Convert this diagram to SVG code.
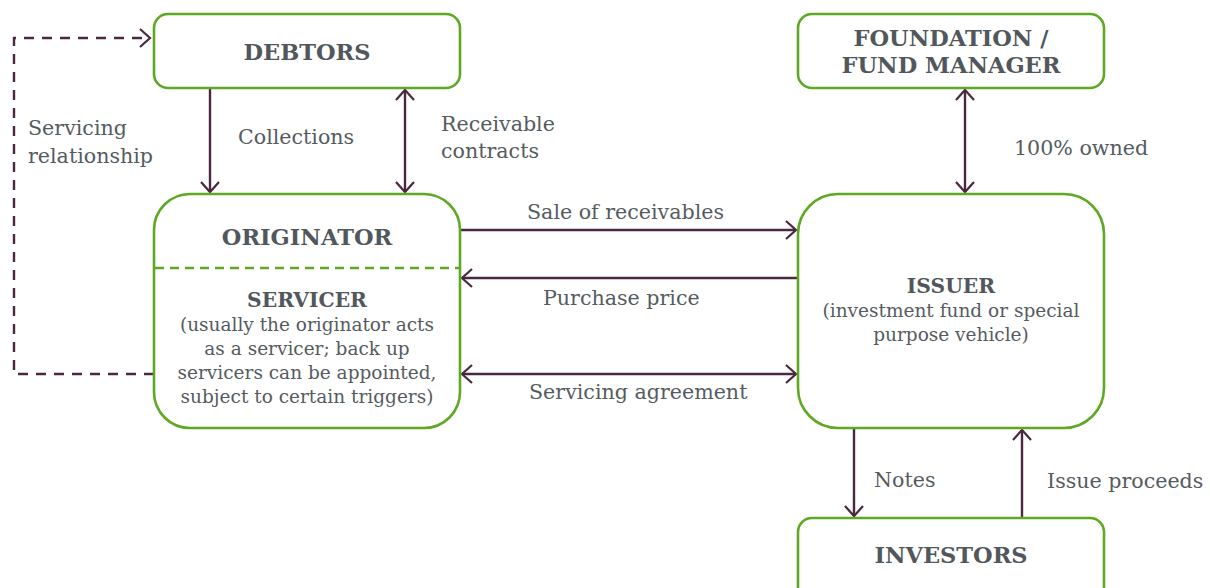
<svg xmlns="http://www.w3.org/2000/svg" width="1210" height="588" viewBox="0 0 1210 588">
<defs>
<marker id="arr" viewBox="-12 -10 14 20" refX="0" refY="0" markerWidth="14" markerHeight="20" markerUnits="userSpaceOnUse" orient="auto-start-reverse">
<path d="M-10,-9 L0,0 L-10,9" fill="none" stroke="#4a2841" stroke-width="2.2"/>
</marker>
<style>
.box{fill:#fff;stroke:#5ea823;stroke-width:2.6}
.ln{fill:none;stroke:#4a2841;stroke-width:2.4}
.t{font-family:"DejaVu Serif","Liberation Serif",serif;font-size:20.6px;fill:#555b5f}
.s{font-family:"DejaVu Serif","Liberation Serif",serif;font-size:18.5px;fill:#555b5f}
.b{font-family:"DejaVu Serif","Liberation Serif",serif;font-size:22.5px;font-weight:bold;fill:#51575b}
.bs{font-family:"DejaVu Serif","Liberation Serif",serif;font-size:20.3px;font-weight:bold;fill:#51575b}
.c{text-anchor:middle}
</style>
</defs>
<rect width="1210" height="588" fill="#fff"/>
<g id="connectors">
<path class="ln" d="M154,374 H14 V38 H150" stroke-dasharray="10,8" marker-end="url(#arr)"/>
<path class="ln" d="M210,88 V192" marker-end="url(#arr)"/>
<path class="ln" d="M405,90 V192" marker-start="url(#arr)" marker-end="url(#arr)"/>
<path class="ln" d="M460,230 H796" marker-end="url(#arr)"/>
<path class="ln" d="M798,278 H462" marker-end="url(#arr)"/>
<path class="ln" d="M462,374 H796" marker-start="url(#arr)" marker-end="url(#arr)"/>
<path class="ln" d="M965,90 V192" marker-start="url(#arr)" marker-end="url(#arr)"/>
<path class="ln" d="M854,428 V516" marker-end="url(#arr)"/>
<path class="ln" d="M1022,518 V430" marker-end="url(#arr)"/>
<text class="t" x="28" y="135">Servicing</text>
<text class="t" x="28" y="163">relationship</text>
<text class="t" x="238" y="144">Collections</text>
<text class="t" x="441" y="131">Receivable</text>
<text class="t" x="441" y="158">contracts</text>
<text class="t" x="527" y="219">Sale of receivables</text>
<text class="t" x="543" y="305">Purchase price</text>
<text class="t" x="529" y="399">Servicing agreement</text>
<text class="t" x="1014" y="155">100% owned</text>
<text class="t" x="874" y="487">Notes</text>
<text class="t" x="1047" y="488">Issue proceeds</text>
</g>
<g id="debtors">
<rect class="box" x="154" y="14" width="306" height="74" rx="14"/>
<text class="b c" x="307" y="60">DEBTORS</text>
</g>
<g id="originator">
<rect class="box" x="154" y="194" width="306" height="234" rx="36"/>
<line x1="155" y1="268" x2="459" y2="268" stroke="#5ea823" stroke-width="2.4" stroke-dasharray="9,6"/>
<text class="b c" x="307" y="245">ORIGINATOR</text>
<text class="bs c" x="307" y="307">SERVICER</text>
<text class="s c" x="307" y="331">(usually the originator acts</text>
<text class="s c" x="307" y="355">as a servicer; back up</text>
<text class="s c" x="307" y="379">servicers can be appointed,</text>
<text class="s c" x="307" y="403">subject to certain triggers)</text>
</g>
<g id="foundation">
<rect class="box" x="798" y="14" width="306" height="74" rx="14"/>
<text class="b c" x="951" y="46">FOUNDATION /</text>
<text class="b c" x="951" y="73">FUND MANAGER</text>
</g>
<g id="issuer">
<rect class="box" x="798" y="194" width="306" height="234" rx="40"/>
<text class="bs c" x="951" y="293">ISSUER</text>
<text class="s c" x="951" y="317">(investment fund or special</text>
<text class="s c" x="951" y="341">purpose vehicle)</text>
</g>
<g id="investors">
<rect class="box" x="798" y="518" width="306" height="90" rx="14"/>
<text class="b c" x="951" y="563">INVESTORS</text>
</g>
</svg>
